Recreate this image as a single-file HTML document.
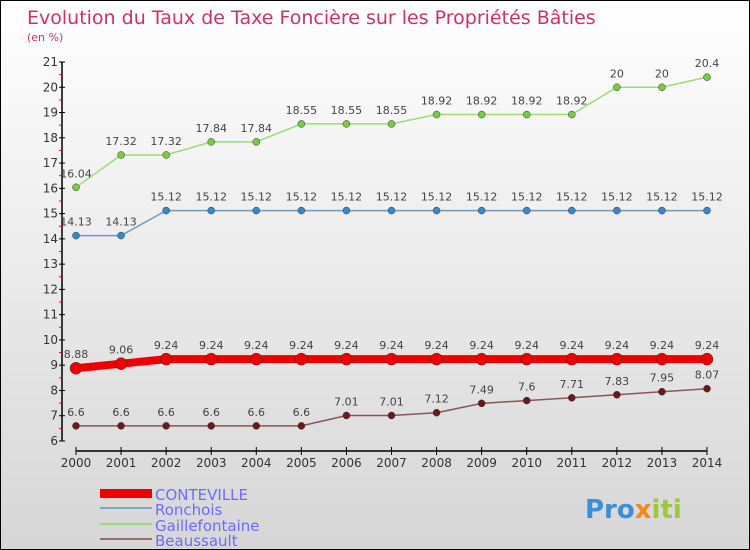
<!DOCTYPE html>
<html><head><meta charset="utf-8"><style>
body{margin:0}
#c{position:relative;width:748px;height:548px;border:1px solid #000;background:linear-gradient(#ffffff,#d6d6d6);font-family:"DejaVu Sans","Liberation Sans",sans-serif;overflow:hidden}
svg{position:absolute;left:0;top:0}
</style></head><body>
<div id="c">
<svg width="748" height="548" id="s">
<text x="26" y="23" font-size="19" fill="#c8336a">Evolution du Taux de Taxe Foncière sur les Propriétés Bâties</text>
<text x="26" y="40" font-size="11" fill="#c8336a">(en %)</text>
<g id="axes"></g><g id="series"></g>
<g>
<rect x="99" y="488" width="52" height="9" fill="#ee0000"/>
<text x="154" y="499" font-size="15" fill="#6b6bff">CONTEVILLE</text>
<line x1="99" y1="507" x2="151" y2="507" stroke="#7aa8c8" stroke-width="2"/>
<text x="154" y="514" font-size="15" fill="#6b6bff">Ronchois</text>
<line x1="99" y1="523" x2="151" y2="523" stroke="#99dd77" stroke-width="2"/>
<text x="154" y="530" font-size="15" fill="#6b6bff">Gaillefontaine</text>
<line x1="99" y1="538" x2="151" y2="538" stroke="#9a6a6a" stroke-width="2"/>
<text x="154" y="545" font-size="15" fill="#6b6bff">Beaussault</text>
</g>
<text x="584" y="517" font-size="26" font-weight="bold" fill="#3b8fd6">Pro<tspan fill="#f08a1c">x</tspan><tspan fill="#9bc93a">iti</tspan></text>
</svg>
</div>
<script>
const years=[2000,2001,2002,2003,2004,2005,2006,2007,2008,2009,2010,2011,2012,2013,2014];
const conteville=[8.88,9.06,9.24,9.24,9.24,9.24,9.24,9.24,9.24,9.24,9.24,9.24,9.24,9.24,9.24];
const ronchois=[14.13,14.13,15.12,15.12,15.12,15.12,15.12,15.12,15.12,15.12,15.12,15.12,15.12,15.12,15.12];
const gaillefontaine=[16.04,17.32,17.32,17.84,17.84,18.55,18.55,18.55,18.92,18.92,18.92,18.92,20,20,20.4];
const beaussault=[6.6,6.6,6.6,6.6,6.6,6.6,7.01,7.01,7.12,7.49,7.6,7.71,7.83,7.95,8.07];
const yTicks=[6,7,8,9,10,11,12,13,14,15,16,17,18,19,20,21];
const X=i=>75+i*(631/14);
const Y=v=>440-(v-6)*(379/15);
const NS="http://www.w3.org/2000/svg";
function mk(tag,attrs,parent,txt){const e=document.createElementNS(NS,tag);for(const k in attrs)e.setAttribute(k,attrs[k]);if(txt!==undefined)e.textContent=txt;parent.appendChild(e);return e;}
const ax=document.getElementById('axes');
let yl=mk('line',{x1:61,y1:Y(21),x2:61,y2:Y(6),stroke:'#000','stroke-width':1.5},ax);


yTicks.forEach(t=>{
 mk('line',{x1:58,y1:Y(t),x2:64,y2:Y(t),stroke:'#000'},ax);
 if(t<21) mk('line',{x1:58,y1:Y(t+0.5),x2:61,y2:Y(t+0.5),stroke:'#f00'},ax);
 let tx=mk('text',{x:57,y:Y(t)+4,'font-size':12,fill:'#333','text-anchor':'end'},ax,String(t));
 
 
});
let xl=mk('line',{x1:X(0),y1:450,x2:X(14),y2:450,stroke:'#000','stroke-width':1.5},ax);


years.forEach((yr,i)=>{
 mk('line',{x1:X(i),y1:446,x2:X(i),y2:454,stroke:'#000'},ax);
 let tx=mk('text',{x:X(i),y:466,'font-size':12,fill:'#333','text-anchor':'middle'},ax,String(yr));
 
 
});
const sg=document.getElementById('series');
function series(name,data,color,dot,w,r){
 const g=mk('g',{},sg);
 
 
 const pts=data.map((v,i)=>X(i)+','+Y(v)).join(' ');
 mk('polyline',{points:pts,fill:'none',stroke:color,'stroke-width':w},g);
 data.forEach((v,i)=>{
  const c=mk('circle',{cx:X(i),cy:Y(v),r:r,fill:dot,stroke:'#333','stroke-width':0.5},g);
  
  
  const t=mk('text',{x:X(i),y:Y(v)-10,'font-size':11,fill:'#444','text-anchor':'middle'},g,String(v));
  
  
 });
}
series('beaussault',beaussault,'#8a5555','#6b1a1a',1.5,3.5);
series('gaillefontaine',gaillefontaine,'#99dd77','#77cc44',1.5,3.5);
series('ronchois',ronchois,'#6a9cc8','#3a88cc',1.5,3.5);
series('conteville',conteville,'#ee0000','#ee0000',8,6);
</script>
</body></html>
